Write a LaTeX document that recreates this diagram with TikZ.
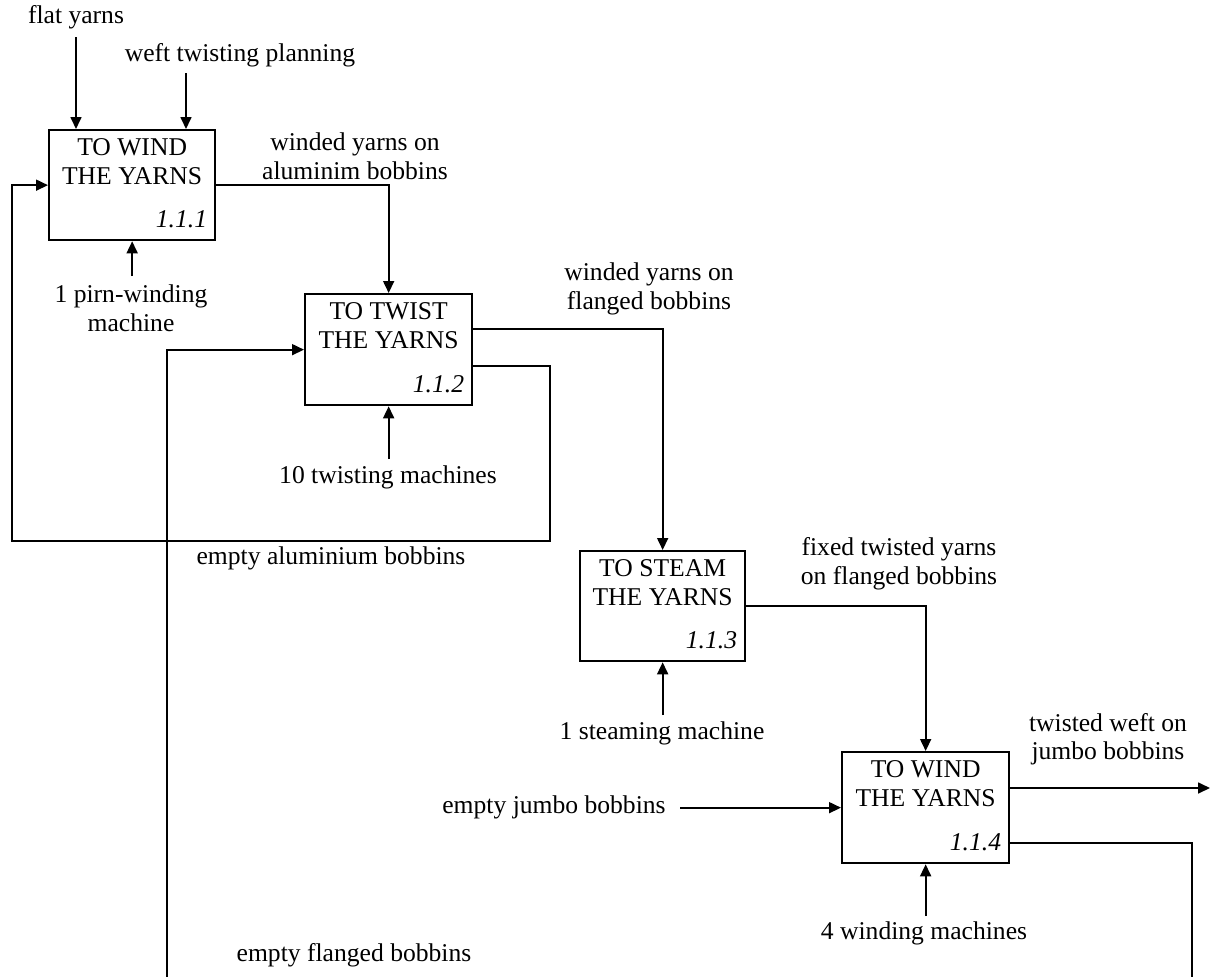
\documentclass[tikz,border=0pt]{standalone}
\usepackage{fontspec}
\setmainfont{Liberation Serif}
\usetikzlibrary{arrows.meta,calc}
\begin{document}
\begin{tikzpicture}[x=1pt,y=-1pt,
  every node/.style={font=\fontsize{25.6}{28.5}\selectfont, inner sep=0pt},
  box/.style={draw, line width=2.3pt, anchor=north west},
  ttl/.style={align=center, anchor=north},
  num/.style={anchor=base east, font=\fontsize{25.6}{28.5}\selectfont\itshape},
  lbl/.style={align=center},
  arr/.style={line width=1.7pt, -{Triangle[length=12pt,width=11pt]}},
  ln/.style={line width=1.7pt}]
\useasboundingbox (0,0) rectangle (1211,977);

% boxes
\node[box, minimum width=166pt, minimum height=110pt] (b1) at (48,129) {};
\node[box, minimum width=167pt, minimum height=111pt] (b2) at (304,293) {};
\node[box, minimum width=165pt, minimum height=110pt] (b3) at (579,550) {};
\node[box, minimum width=167pt, minimum height=111pt] (b4) at (841,751) {};

% titles and numbers
\node[ttl] (t1) at ($(b1.north)+(0,9.5)$) {TO WIND\\THE YARNS};
\node[ttl] (t2) at ($(b2.north)+(0,9.5)$) {TO TWIST\\THE YARNS};
\node[ttl] (t3) at ($(b3.north)+(0,9.5)$) {TO STEAM\\THE YARNS};
\node[ttl] (t4) at ($(b4.north)+(0,9.5)$) {TO WIND\\THE YARNS};
\node[num] (n1) at ($(b1.south east)+(-9,-14)$) {1.1.1};
\node[num] (n2) at ($(b2.south east)+(-9,-14)$) {1.1.2};
\node[num] (n3) at ($(b3.south east)+(-9,-14)$) {1.1.3};
\node[num] (n4) at ($(b4.south east)+(-9,-14)$) {1.1.4};

% labels
\node[lbl] (lflat) at (76,17) {flat yarns};
\node[lbl] (lweft) at (240,55) {weft twisting planning};
\node[lbl] (lalu) at (355,156) {winded yarns on\\aluminim bobbins};
\node[lbl] (lpirn) at (131,308) {1 pirn-winding\\machine};
\node[lbl] (lflg) at (649,289) {winded yarns on\\flanged bobbins};
\node[lbl] (ltw) at (388,477) {10 twisting machines};
\node[lbl] (lempal) at (331,558) {empty aluminium bobbins};
\node[lbl] (lfix) at (899,563.5) {fixed twisted yarns\\on flanged bobbins};
\node[lbl] (lsteam) at (662,733) {1 steaming machine};
\node[lbl] (ltwe) at (1108,739) {twisted weft on\\jumbo bobbins};
\node[lbl] (ljumbo) at (554,807) {empty jumbo bobbins};
\node[lbl] (lwind) at (924,933) {4 winding machines};
\node[lbl] (lempfl) at (354,955) {empty flanged bobbins};

% free ends and bends
\coordinate (flatA) at (76,37);
\coordinate (weftA) at (186,73);
\coordinate (pirnA) at (131,276);
\coordinate (twA) at (387.5,459);
\coordinate (flgA) at (167,977);
\coordinate (stA) at (661.5,715);
\coordinate (jbA) at (680,807);
\coordinate (wdA) at (924.5,916);
\coordinate (outA) at (1210,788);
\coordinate (retA) at (1192,977);
\coordinate (y366) at (0,366);
\coordinate (y329) at (0,329);
\coordinate (y788) at (0,788);
\coordinate (y843) at (0,843);
\coordinate (loopA) at (550,541);
\coordinate (loopB) at (12,541);

% connectors
\draw[arr] (flatA) -- (flatA |- b1.north);
\draw[arr] (weftA) -- (weftA |- b1.north);
\draw[arr] (b1.south |- pirnA) -- (b1.south);
\draw[arr] (b1.east) -| (b2.north);
\draw[arr] (b2.east |- y366) -| (loopA) -- (loopB) |- (b1.west);
\draw[arr] (flgA) |- (b2.west);
\draw[arr] (b2.south |- twA) -- (b2.south);
\draw[arr] (b2.east |- y329) -| (b3.north);
\draw[arr] (b3.south |- stA) -- (b3.south);
\draw[arr] (b3.east) -| (b4.north);
\draw[arr] (jbA |- b4.west) -- (b4.west);
\draw[arr] (b4.south |- wdA) -- (b4.south);
\draw[arr] (b4.east |- y788) -- (outA |- y788);
\draw[ln] (b4.east |- y843) -| (retA);
\end{tikzpicture}
\end{document}
